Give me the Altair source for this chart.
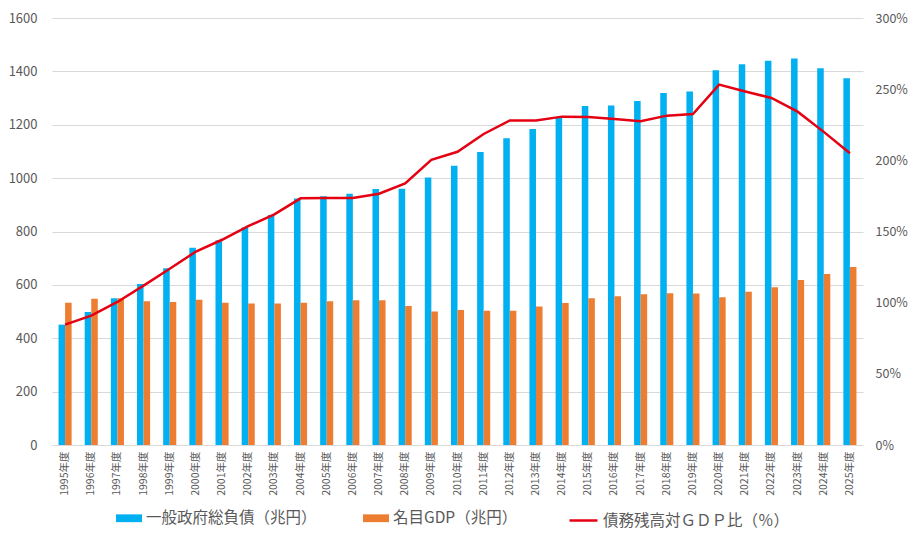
import altair as alt
import pandas as pd

years = ["1995年度", "1996年度", "1997年度", "1998年度", "1999年度", "2000年度",
         "2001年度", "2002年度", "2003年度", "2004年度", "2005年度", "2006年度",
         "2007年度", "2008年度", "2009年度", "2010年度", "2011年度", "2012年度",
         "2013年度", "2014年度", "2015年度", "2016年度", "2017年度", "2018年度",
         "2019年度", "2020年度", "2021年度", "2022年度", "2023年度", "2024年度",
         "2025年度"]
debt = [451, 498, 550, 603, 662, 739, 767, 815, 862, 924, 932, 941, 959, 960,
        1002, 1046, 1098, 1149, 1184, 1226, 1270, 1272, 1289, 1319, 1325, 1404,
        1427, 1440, 1448, 1412, 1374]
gdp = [533, 548, 550, 539, 536, 544, 533, 530, 530, 533, 539, 542, 542, 521,
       500, 506, 503, 503, 519, 532, 550, 557, 565, 569, 568, 554, 574, 591,
       618, 641, 667]
ratio = [84.6, 90.9, 100.5, 112.0, 123.8, 135.9, 144.2, 153.7, 162.0, 173.3,
         173.5, 173.6, 176.5, 183.8, 200.3, 206.0, 218.5, 228.0, 228.0, 230.7,
         230.4, 229.0, 227.5, 231.4, 232.5, 253.2, 248.4, 243.8, 234.2, 220.0,
         205.0]

series_names = ["一般政府総負債（兆円）", "名目GDP（兆円）", "債務残高対ＧＤＰ比（％）"]
colors = ["#00B0F0", "#ED7D31", "#E50012"]
left_ticks = [0, 200, 400, 600, 800, 1000, 1200, 1400, 1600]
right_ticks = [0, 50, 100, 150, 200, 250, 300]

FONT = "Noto Sans CJK JP"
GRAY = "#595959"

bars_df = pd.DataFrame(
    [{"year": y, "series": series_names[0], "value": v} for y, v in zip(years, debt)]
    + [{"year": y, "series": series_names[1], "value": v} for y, v in zip(years, gdp)]
)
line_df = pd.DataFrame({"year": years, "ratio": ratio, "series": series_names[2]})

x_enc = alt.X(
    "year:N", sort=years,
    scale=alt.Scale(paddingInner=0.5, paddingOuter=0.25),
    axis=alt.Axis(title=None, labelAngle=270, labelFontSize=10.5, labelColor=GRAY,
                  labelFont=FONT, ticks=False, domain=False, labelPadding=6,
                  grid=False),
)

rect_shape = "M-1,-0.3H1V0.3H-1Z"
LEG_Y = 487

bars = alt.Chart(bars_df).mark_bar().encode(
    x=x_enc,
    xOffset=alt.XOffset("series:N", sort=series_names[:2]),
    y=alt.Y("value:Q",
            scale=alt.Scale(domain=[0, 1600], nice=False),
            axis=alt.Axis(title=None, values=left_ticks, format="d", grid=True,
                          gridColor="#D9D9D9", domain=False, ticks=False,
                          labelPadding=15, labelFontSize=13,
                          labelColor=GRAY, labelFont=FONT)),
    color=alt.Color("series:N",
                    scale=alt.Scale(domain=series_names[:2], range=colors[:2]),
                    legend=alt.Legend(
                        title=None, orient="none", direction="horizontal",
                        legendX=64, legendY=LEG_Y, padding=0,
                        symbolType=rect_shape, symbolSize=676,
                        labelFontSize=15.5, labelColor=GRAY,
                        labelFont=FONT, labelOffset=4, columnPadding=46,
                        symbolStrokeWidth=0, labelLimit=400,
                    )),
)

line = alt.Chart(line_df).mark_line(strokeWidth=2.5).encode(
    x=x_enc,
    y=alt.Y("ratio:Q",
            scale=alt.Scale(domain=[0, 300], nice=False),
            axis=alt.Axis(title=None, orient="right", values=right_ticks, grid=False,
                          domain=False, ticks=False, labelPadding=12, labelFontSize=12.5,
                          labelColor=GRAY, labelFont=FONT,
                          labelExpr="datum.value + '%'")),
    stroke=alt.Stroke("series:N",
                      scale=alt.Scale(domain=[series_names[2]], range=[colors[2]]),
                      legend=alt.Legend(
                          title=None, orient="none", direction="horizontal",
                          legendX=516, legendY=LEG_Y, padding=0,
                          symbolType="stroke", symbolSize=784, symbolStrokeWidth=2.5,
                          labelFontSize=15.5, labelColor=GRAY, labelFont=FONT,
                          labelOffset=4, labelLimit=400,
                      )),
)

chart = alt.layer(bars, line).resolve_scale(y="independent").properties(
    width=811, height=427,
    autosize=alt.AutoSizeParams(type="none"),
    padding={"left": 44, "top": 10, "right": 45, "bottom": 86},
).configure_view(stroke=None)

chart.save("out.html", embed_options={"renderer": "svg", "actions": False})
